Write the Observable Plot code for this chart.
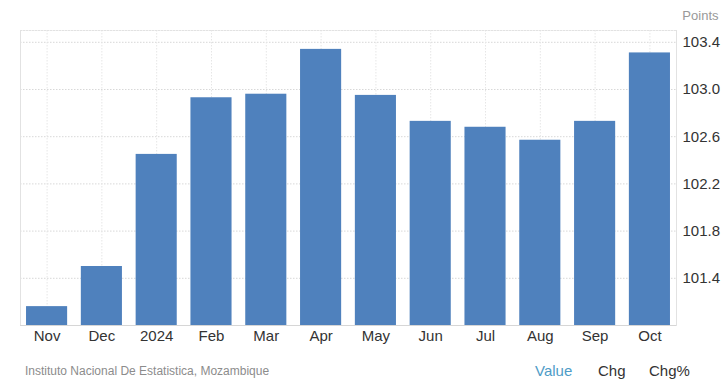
<!DOCTYPE html>
<html>
<head>
<meta charset="utf-8">
<script src="https://cdn.jsdelivr.net/npm/d3@7"></script>
<script src="https://cdn.jsdelivr.net/npm/@observablehq/plot@0.6"></script>
<style>
  html, body { margin: 0; padding: 0; background: #fff; }
  body { width: 723px; height: 382px; overflow: hidden; font-family: "Liberation Sans", Arial, sans-serif; }
  #footer { position: relative; height: 30px; }
  #footer span { position: absolute; white-space: nowrap; }
</style>
</head>
<body>
<div id="chart"></div>
<div id="footer">
  <span id="src" style="left:25px; top:12px; font-size:12px; color:#8c8c8c;">Instituto Nacional De Estatistica, Mozambique</span>
  <span style="left:535px; top:10px; font-size:15px; color:#4e9cc7;">Value</span>
  <span style="left:598px; top:10px; font-size:15px; color:#333;">Chg</span>
  <span style="left:649px; top:10px; font-size:15px; color:#333;">Chg%</span>
</div>
<script>
const months = ["Nov","Dec","2024","Feb","Mar","Apr","May","Jun","Jul","Aug","Sep","Oct"];
const values = [101.16, 101.50, 102.45, 102.93, 102.96, 103.34, 102.95, 102.73, 102.68, 102.57, 102.73, 103.31];
const yTicks = [101.4, 101.8, 102.2, 102.6, 103.0, 103.4];
const unitLabel = "Points";

const data = months.map((m, i) => ({month: m, value: values[i]}));

const chart = Plot.plot({
  width: 723,
  height: 352,
  marginLeft: 20,
  marginRight: 47,
  marginTop: 30,
  marginBottom: 27,
  style: {fontFamily: "Liberation Sans, Arial, sans-serif", fontSize: "15px", color: "#333", background: "#fff"},
  x: {domain: months, paddingInner: 0.25, paddingOuter: 0.11, round: false, label: null},
  y: {domain: [101, 103.5], label: null},
  marks: [
    Plot.gridY(yTicks, {stroke: "#d8d8d8", strokeOpacity: 1, strokeDasharray: "1.5,1.5"}),
    Plot.gridX(months, {stroke: "#e6e6e6", strokeOpacity: 1, strokeDasharray: "1.5,1.5"}),
    Plot.frame({stroke: "#e2e2e2", anchor: "top", strokeDasharray: "1.5,1.5"}),
    Plot.frame({stroke: "#e2e2e2", anchor: "left"}),
    Plot.frame({stroke: "#e2e2e2", anchor: "right"}),
    Plot.barY(data, {x: "month", y1: 101, y2: "value", fill: "#4f81bd"}),
    Plot.ruleY([101], {stroke: "#d6d6d6"}),
    Plot.axisX({tickSize: 0, tickPadding: 5, fontSize: 15, fill: "#333"}),
    Plot.axisY(yTicks, {anchor: "right", tickSize: 0, tickPadding: 6, fontSize: 15, fill: "#333", tickFormat: d3.format(".1f"), label: null}),
    Plot.text([unitLabel], {frameAnchor: "top-right", dx: 42, dy: -20, textAnchor: "end", fill: "#999", fontSize: 13})
  ]
});
document.getElementById("chart").appendChild(chart);
</script>
</body>
</html>
